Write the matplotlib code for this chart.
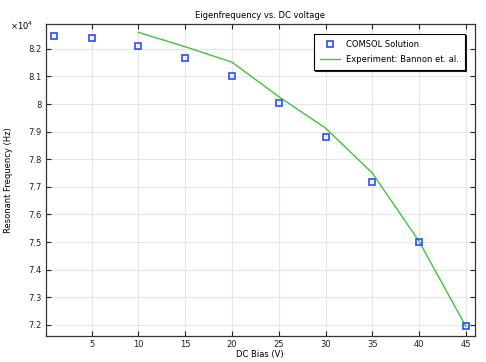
import numpy as np
from matplotlib import pyplot as plt
from matplotlib.ticker import FuncFormatter

# COMSOL solution (DC bias in V, frequency in Hz)
comsol_v = [1, 5, 10, 15, 20, 25, 30, 35, 40, 45]
comsol_f = [82470, 82400, 82120, 81660, 81000, 80050, 78820, 77190, 75000, 71940]

# Experiment: Bannon et al.
exp_v = [10, 15, 20, 25, 30, 35, 40, 45]
exp_f = [82600, 82080, 81520, 80270, 79130, 77500, 75020, 71940]

xticks = [5, 10, 15, 20, 25, 30, 35, 40, 45]
yticks = [7.2, 7.3, 7.4, 7.5, 7.6, 7.7, 7.8, 7.9, 8.0, 8.1, 8.2]
scale = 1e4

plt.rcParams['font.family'] = 'DejaVu Sans'
fs = 6
fig = plt.figure(figsize=(4.86, 3.62), dpi=100)
ax = fig.add_axes([0.094, 0.073, 0.883, 0.861])

ax.plot(np.array(comsol_v), np.array(comsol_f) / scale, linestyle='none',
        marker='s', markersize=4.3, markerfacecolor='none',
        markeredgecolor='#2b4cff', markeredgewidth=1.2, label='COMSOL Solution', zorder=3)
ax.plot(np.array(exp_v), np.array(exp_f) / scale, color='#3ec43e', linewidth=1.0,
        label='Experiment: Bannon et. al.', zorder=2)

ax.set_xlim(0.1, 45.95)
ax.set_ylim(7.161, 8.2906)
ax.set_xticks(xticks)
ax.set_yticks(yticks)
ax.yaxis.set_major_formatter(FuncFormatter(lambda v, p: '%g' % round(v, 2)))
ax.grid(True, color='#e6e6e6', linewidth=0.8)
ax.set_axisbelow(True)
ax.tick_params(direction='in', top=True, right=True, length=3.5, width=0.8,
               labelsize=fs, colors='#222222', pad=3)
for s in ax.spines.values():
    s.set_linewidth(0.9)
    s.set_color('#333333')

ax.set_title('Eigenfrequency vs. DC voltage', fontsize=fs, pad=4)
ax.set_xlabel('DC Bias (V)', fontsize=fs, labelpad=1)
ax.set_ylabel('Resonant Frequency (Hz)', fontsize=fs, labelpad=11)
fig.text(0.02, 0.918, r'$\times10^4$', fontsize=fs)

leg = ax.legend(loc='upper right', bbox_to_anchor=(0.977, 0.968), fontsize=fs,
                fancybox=False, framealpha=1, edgecolor='black', borderaxespad=0,
                shadow={'color': 'black', 'alpha': 0.8, 'ox': 1.0, 'oy': -1.0},
                borderpad=0.7, handlelength=2.5, handletextpad=0.7, labelspacing=0.75)
leg.get_frame().set_linewidth(0.8)

fig.savefig('out.png', dpi=100)
